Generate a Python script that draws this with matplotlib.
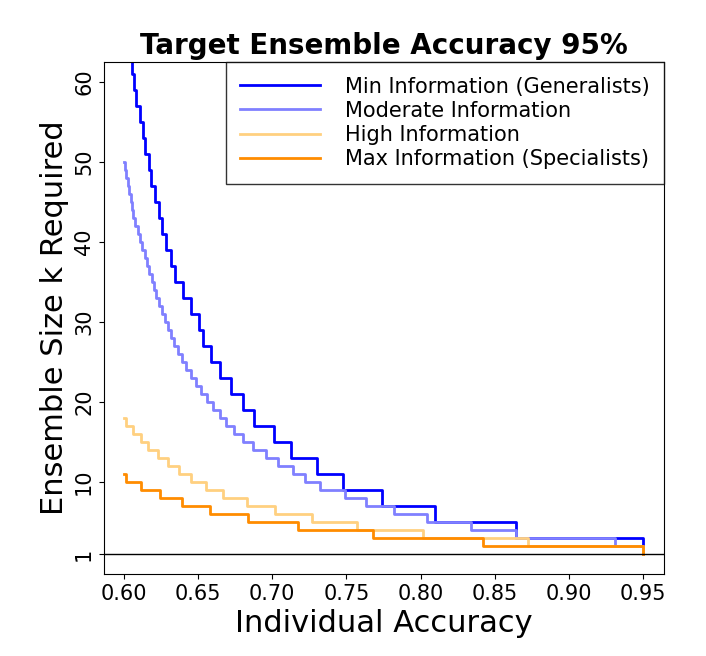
import matplotlib
matplotlib.use("Agg")
import matplotlib.pyplot as plt

# Min information (generalists): k values and accuracy where k drops to next
min_k = list(range(65, 0, -2))
min_drop = [0.6045, 0.6058, 0.607, 0.6085, 0.6108, 0.6126, 0.6145, 0.6168, 0.6185, 0.621,
            0.6235, 0.626, 0.6285, 0.6318, 0.6345, 0.6398, 0.6452, 0.6505, 0.6535, 0.659,
            0.6648, 0.672, 0.680, 0.688, 0.701, 0.7126, 0.730, 0.748, 0.774, 0.810,
            0.864, 0.950]

mod_k = list(range(50, 0, -1))
mod_drop = [0.6008, 0.6017, 0.6028, 0.6038, 0.6048, 0.6055, 0.6063, 0.6078, 0.6093, 0.6108,
            0.6125, 0.614, 0.6155, 0.617, 0.619, 0.6205, 0.622, 0.6235, 0.6255, 0.6275,
            0.6295, 0.6315, 0.634, 0.6365, 0.639, 0.642, 0.6455, 0.6485, 0.652, 0.656,
            0.660, 0.6645, 0.669, 0.674, 0.680, 0.687, 0.696, 0.704, 0.714, 0.722,
            0.732, 0.749, 0.763, 0.782, 0.8045, 0.834, 0.864, 0.931, 0.950]

high_k = list(range(18, 0, -1))
high_drop = [0.6013, 0.6063, 0.6113, 0.6164, 0.6227, 0.6297, 0.637, 0.6456, 0.6553, 0.667,
             0.683, 0.7022, 0.727, 0.7573, 0.8014, 0.8724, 0.950]

max_k = list(range(11, 0, -1))
max_drop = [0.6015, 0.6115, 0.6247, 0.6391, 0.6584, 0.6834, 0.7177, 0.768, 0.8423, 0.950]

start_p = 0.60
labels = ["Min Information (Generalists)", "Moderate Information",
          "High Information", "Max Information (Specialists)"]
colors = ["#0000FF", "#8080FF", "#FFD080", "#FF8C00"]
x_ticks = [0.60, 0.65, 0.70, 0.75, 0.80, 0.85, 0.90, 0.95]
y_ticks = [1, 10, 20, 30, 40, 50, 60]

fig = plt.figure(figsize=(7.06, 6.56), dpi=100)
ax = fig.add_axes([0.147, 0.125, 0.7935, 0.7805])

series = [(min_k, min_drop), (mod_k, mod_drop), (high_k, high_drop), (max_k, max_drop)]
for (ks, drops), c, lab in zip(series, colors, labels):
    xs = [start_p] + drops
    ax.step(xs, ks, where="post", color=c, lw=2, label=lab)

ax.axhline(1, color="black", lw=1)
ax.set_xlim(0.5865, 0.964)
ax.set_ylim(-1.5, 62.5)
ax.set_xticks(x_ticks)
ax.set_xticklabels([f"{v:.2f}" for v in x_ticks], fontsize=15)
ax.set_yticks(y_ticks)
ax.set_yticklabels([str(v) for v in y_ticks], fontsize=15, rotation=90, va="center")
ax.set_xlabel("Individual Accuracy", fontsize=22)
ax.set_ylabel("Ensemble Size k Required", fontsize=22)
ax.set_title("Target Ensemble Accuracy 95%", fontsize=20, fontweight="bold")
leg = ax.legend(loc="upper right", fontsize=15, frameon=True, fancybox=False,
                edgecolor="black", borderpad=0.7, handlelength=3.8, handletextpad=1.2,
                labelspacing=0.2, borderaxespad=0)
leg.get_frame().set_linewidth(1)
fig.savefig("out.png", dpi=100)
